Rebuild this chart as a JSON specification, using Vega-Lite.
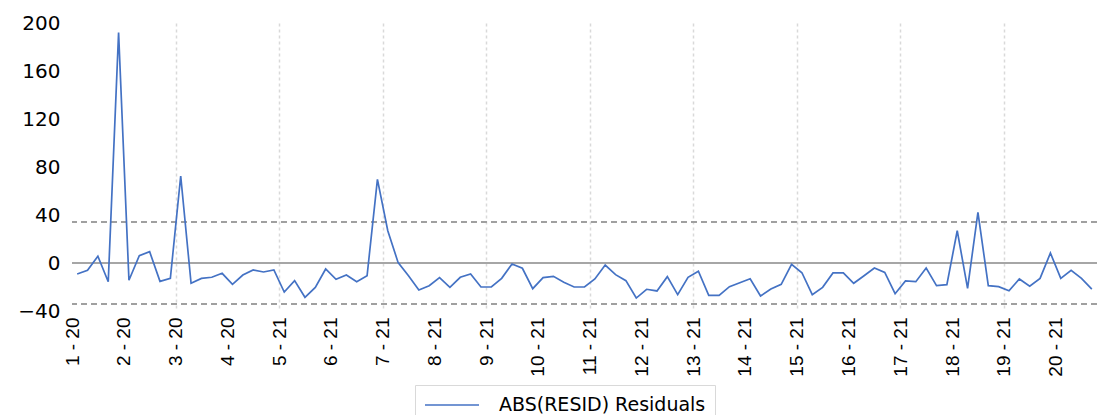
{
  "$schema": "https://vega.github.io/schema/vega-lite/v6.json",
  "width": 1025,
  "height": 288,
  "autosize": {"type": "none"},
  "padding": {"left": 72, "top": 23, "right": 3, "bottom": 104},
  "background": "white",
  "config": {"view": {"stroke": null}},
  "data": {
    "values": [
      {"i": 0, "v": -9.2}, {"i": 1, "v": -6.1}, {"i": 2, "v": 5.6}, {"i": 3, "v": -15.6}, {"i": 4, "v": 192},
      {"i": 5, "v": -14.4}, {"i": 6, "v": 6.1}, {"i": 7, "v": 9.4}, {"i": 8, "v": -15.3}, {"i": 9, "v": -12.8},
      {"i": 10, "v": 72.5}, {"i": 11, "v": -16.9}, {"i": 12, "v": -12.8}, {"i": 13, "v": -11.9}, {"i": 14, "v": -8.6},
      {"i": 15, "v": -17.8}, {"i": 16, "v": -10}, {"i": 17, "v": -5.8}, {"i": 18, "v": -7.5}, {"i": 19, "v": -5.8},
      {"i": 20, "v": -24.2}, {"i": 21, "v": -14.7}, {"i": 22, "v": -28.6}, {"i": 23, "v": -20.3}, {"i": 24, "v": -5},
      {"i": 25, "v": -13.6}, {"i": 26, "v": -10}, {"i": 27, "v": -15.6}, {"i": 28, "v": -10.6}, {"i": 29, "v": 69.7},
      {"i": 30, "v": 26.9}, {"i": 31, "v": 0.3}, {"i": 32, "v": -10.6}, {"i": 33, "v": -22.5}, {"i": 34, "v": -18.9},
      {"i": 35, "v": -12.2}, {"i": 36, "v": -20.3}, {"i": 37, "v": -11.9}, {"i": 38, "v": -9.2}, {"i": 39, "v": -20},
      {"i": 40, "v": -20}, {"i": 41, "v": -12.8}, {"i": 42, "v": -0.8}, {"i": 43, "v": -4.4}, {"i": 44, "v": -21.4},
      {"i": 45, "v": -12.2}, {"i": 46, "v": -11.1}, {"i": 47, "v": -16.1}, {"i": 48, "v": -20}, {"i": 49, "v": -20},
      {"i": 50, "v": -13.3}, {"i": 51, "v": -1.7}, {"i": 52, "v": -9.7}, {"i": 53, "v": -14.7}, {"i": 54, "v": -29.2},
      {"i": 55, "v": -21.9}, {"i": 56, "v": -23.3}, {"i": 57, "v": -11.4}, {"i": 58, "v": -26.4}, {"i": 59, "v": -11.9},
      {"i": 60, "v": -6.9}, {"i": 61, "v": -26.9}, {"i": 62, "v": -26.9}, {"i": 63, "v": -19.7}, {"i": 64, "v": -16.4},
      {"i": 65, "v": -13.1}, {"i": 66, "v": -27.5}, {"i": 67, "v": -21.7}, {"i": 68, "v": -17.8}, {"i": 69, "v": -1.1},
      {"i": 70, "v": -8.1}, {"i": 71, "v": -26.4}, {"i": 72, "v": -20.3}, {"i": 73, "v": -8.3}, {"i": 74, "v": -8.3},
      {"i": 75, "v": -16.9}, {"i": 76, "v": -10.6}, {"i": 77, "v": -4.2}, {"i": 78, "v": -7.8}, {"i": 79, "v": -25.6},
      {"i": 80, "v": -15}, {"i": 81, "v": -15.6}, {"i": 82, "v": -4.2}, {"i": 83, "v": -18.9}, {"i": 84, "v": -18.1},
      {"i": 85, "v": 26.9}, {"i": 86, "v": -21.1}, {"i": 87, "v": 42.2}, {"i": 88, "v": -18.9}, {"i": 89, "v": -19.7},
      {"i": 90, "v": -23.1}, {"i": 91, "v": -13.3}, {"i": 92, "v": -19.4}, {"i": 93, "v": -12.8}, {"i": 94, "v": 8.3},
      {"i": 95, "v": -12.8}, {"i": 96, "v": -6.1}, {"i": 97, "v": -12.8}, {"i": 98, "v": -21.7}
    ]
  },
  "layer": [
    {
      "mark": {"type": "rule", "color": "#a6a6a6", "strokeWidth": 2},
      "encoding": {"y": {"datum": 0, "type": "quantitative"}}
    },
    {
      "mark": {"type": "rule", "color": "#a0a0a0", "strokeWidth": 1.5, "strokeDash": [6, 4]},
      "encoding": {"y": {"datum": 34, "type": "quantitative"}}
    },
    {
      "mark": {"type": "rule", "color": "#a0a0a0", "strokeWidth": 1.5, "strokeDash": [6, 4]},
      "encoding": {"y": {"datum": -34, "type": "quantitative"}}
    },
    {
      "mark": {"type": "line", "strokeWidth": 1.7, "interpolate": "linear"},
      "encoding": {
        "x": {
          "field": "i",
          "type": "quantitative",
          "scale": {"domain": [-0.5, 98.5], "nice": false, "zero": false},
          "axis": {
            "title": null,
            "values": [-0.5, 4.5, 9.5, 14.5, 19.5, 24.5, 29.5, 34.5, 39.5, 44.5, 49.5, 54.5, 59.5, 64.5, 69.5, 74.5, 79.5, 84.5, 89.5, 94.5],
            "labelExpr": "((datum.value + 0.5) / 5 + 1) + ' - ' + (((datum.value + 0.5) / 5 + 1) <= 4 ? '20' : '21')",
            "labelAngle": -90,
            "labelAlign": "right",
            "labelBaseline": "middle",
            "labelFont": "Liberation Sans",
            "labelFontSize": 19,
            "labelColor": "#000000",
            "labelPadding": 6,
            "labelOverlap": false,
            "labelBound": false,
            "labelFlush": false,
            "ticks": false,
            "domain": false,
            "grid": true,
            "gridColor": "#d9d9d9",
            "gridWidth": 1.5,
            "gridDash": [3, 3],
            "gridOpacity": {"condition": {"test": "datum.value > 0 && (datum.value + 0.5) % 10 == 0", "value": 1}, "value": 0}
          }
        },
        "y": {
          "field": "v",
          "type": "quantitative",
          "scale": {"domain": [-40, 200], "nice": false, "zero": false},
          "axis": {
            "title": null,
            "values": [-40, 0, 40, 80, 120, 160, 200],
            "labelFont": "DejaVu Sans",
            "labelFontSize": 20,
            "labelColor": "#000000",
            "labelPadding": 12,
            "ticks": false,
            "domain": false,
            "grid": false
          }
        },
        "color": {
          "datum": "ABS(RESID) Residuals",
          "type": "nominal",
          "scale": {"range": ["#4472C4"]},
          "legend": {
            "title": null,
            "orient": "none",
            "legendX": 343,
            "legendY": 362,
            "direction": "horizontal",
            "padding": 9,
            "strokeColor": "#d9d9d9",
            "fillColor": "white",
            "symbolType": "M-1,0L4.4,0",
            "symbolSize": 400,
            "symbolStrokeWidth": 1.5,
            "labelFont": "DejaVu Sans",
            "labelFontSize": 19,
            "labelColor": "#000000",
            "labelOffset": 53,
            "labelLimit": 400
          }
        }
      }
    }
  ]
}
